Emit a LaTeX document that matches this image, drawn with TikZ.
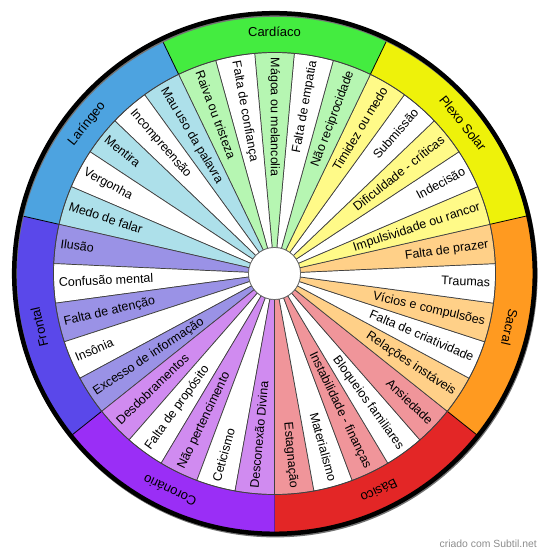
\documentclass[tikz,border=0pt]{standalone}
\usepackage{fontspec}
\setmainfont{Liberation Sans}
\usepackage{tikz}

\definecolor{dark0}{HTML}{E32626}
\definecolor{lite0}{HTML}{F0959A}
\definecolor{dark1}{HTML}{FF9A20}
\definecolor{lite1}{HTML}{FFD088}
\definecolor{dark2}{HTML}{EEF20A}
\definecolor{lite2}{HTML}{FFFA88}
\definecolor{dark3}{HTML}{44EC40}
\definecolor{lite3}{HTML}{B6F6B2}
\definecolor{dark4}{HTML}{4DA3E0}
\definecolor{lite4}{HTML}{ADE0EA}
\definecolor{dark5}{HTML}{5A48EA}
\definecolor{lite5}{HTML}{9A92E6}
\definecolor{dark6}{HTML}{9A2EF6}
\definecolor{lite6}{HTML}{D08BF0}

\begin{document}
\begin{tikzpicture}[x=1pt,y=1pt,
	slice_label/.style={font=\fontsize{12.5}{14}\selectfont,inner sep=0pt,text height=7.2pt,text depth=0pt},
	ring_label/.style={font=\fontsize{13}{15}\selectfont,inner sep=0pt,anchor=base},
	wedge_line/.style={draw=black!75,line width=0.7pt}]
	\useasboundingbox (-274.5,-285.5) rectangle (275.5,273.5);
	\def\rhub{26}
	\def\rin{221}
	\def\rout{260}
	
	% chakra ring
	\foreach \cname [count=\c from 0] in {Básico,Sacral,Plexo Solar,Cardíaco,Laríngeo,Frontal,Coronário}{
		\pgfmathsetmacro{\a}{270+\c*360/7}
		\pgfmathsetmacro{\b}{270+(\c+1)*360/7}
		\pgfmathsetmacro{\m}{270+(\c+0.5)*360/7}
		\pgfmathsetmacro{\r}{\m-90}
		\fill[dark\c] (\a:\rin) arc[start angle=\a,end angle=\b,radius=\rin]
			-- (\b:\rout) arc[start angle=\b,end angle=\a,radius=\rout] -- cycle;
		\draw[black,line width=0.8pt] (\a:\rin) -- (\a:\rout);
		\node[ring_label,rotate=\r] (chakra\c) at (\m:236.5) {\cname};
	}
	
	% slices
	\foreach \n in {0,...,34}{
		\pgfmathtruncatemacro{\c}{floor((\n+0.5)/5)}
		\pgfmathtruncatemacro{\k}{mod(\n,5)}
		\pgfmathsetmacro{\a}{270+\n*360/35}
		\pgfmathsetmacro{\b}{270+(\n+1)*360/35}
		\ifodd\k\relax \def\fc{white}\else \def\fc{lite\c}\fi
		\filldraw[fill=\fc,wedge_line] (\a:\rhub) -- (\a:\rin) arc[start angle=\a,end angle=\b,radius=\rin]
			-- (\b:\rhub) arc[start angle=\b,end angle=\a,radius=\rhub] -- cycle;
	}
	
	\foreach \txt [count=\n from 0] in {Estagnação,Materialismo,Instabilidade - finanças,Bloqueios familiares,Ansiedade,
		Relações instáveis,Falta de criatividade,Vícios e compulsões,Traumas,Falta de prazer,
		Impulsividade ou rancor,Indecisão,Dificuldade - críticas,Submissão,Timidez ou medo,
		Não reciprocidade,Falta de empatia,Mágoa ou melancolia,Falta de confiança,Raiva ou tristeza,
		Mau uso da palavra,Incompreensão,Mentira,Vergonha,Medo de falar,
		Ilusão,Confusão mental,Falta de atenção,Insônia,Excesso de informação,
		Desdobramentos,Falta de propósito,Não pertencimento,Ceticismo,Desconexão Divina}{
		\pgfmathsetmacro{\a}{270+(\n+0.5)*360/35}
		\pgfmathsetmacro{\m}{mod(\a,360)}
		\pgfmathtruncatemacro{\flip}{(\m>89.9)&&(\m<269.9)}
		\pgfmathsetmacro{\f}{\a-180}
		\ifnum\flip=1
			\node[slice_label,anchor=west,rotate=\f] (slice\n) at (\a:216) {\txt};
		\else
			\node[slice_label,anchor=east,rotate=\a] (slice\n) at (\a:216) {\txt};
		\fi
	}
	
	% hub and rims
	\draw[wedge_line] (0,0) circle[radius=\rin];
	\filldraw[fill=white,draw=black!60,line width=0.7pt] (0,0) circle[radius=\rhub];
	\draw[black!55,line width=4pt] (0.8,-1.6) circle[radius=260.3];
	\draw[black,line width=4.5pt] (0,0) circle[radius=260.3];
	
	\node[font=\fontsize{10.4}{12}\selectfont,text=black!45,anchor=base east,inner sep=0pt] (credit) at (262.5,-273.5) {criado com Subtil.net};
\end{tikzpicture}
\end{document}
